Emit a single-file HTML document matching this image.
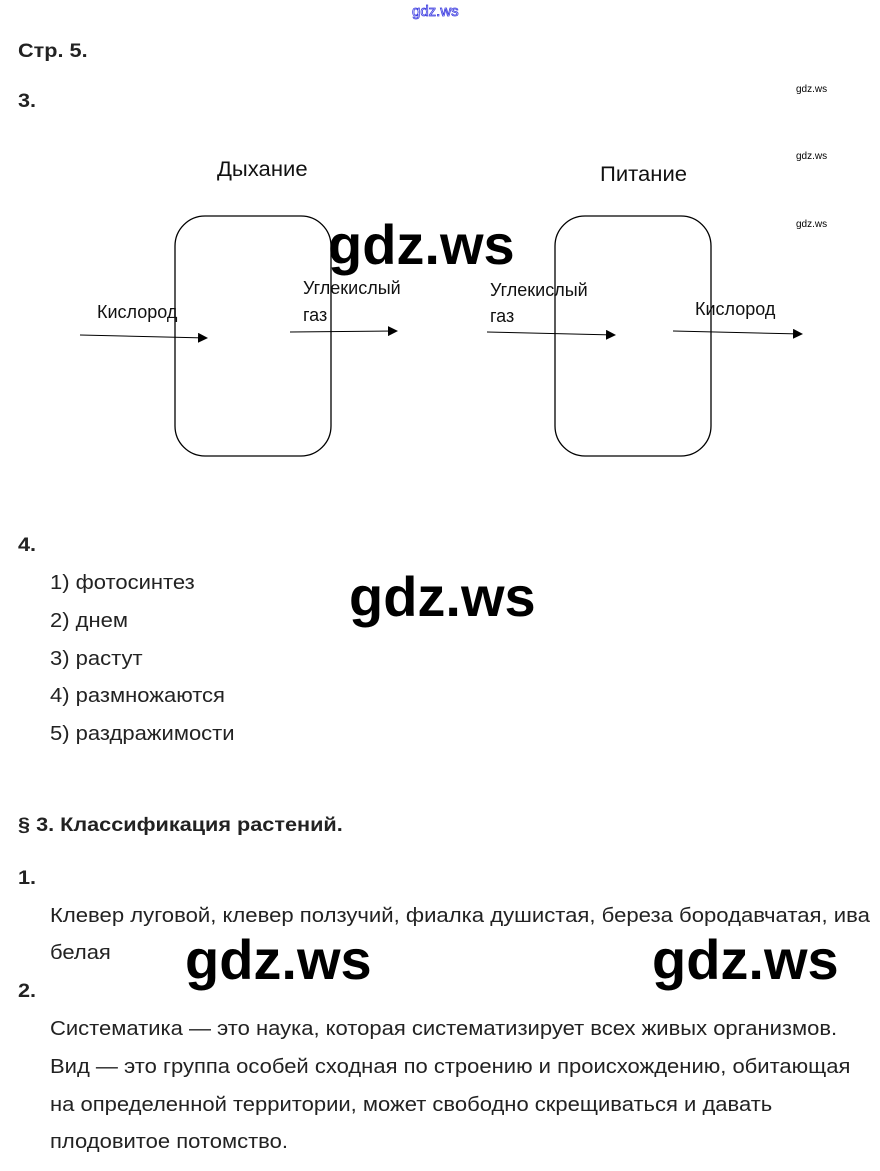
<!DOCTYPE html>
<html><head><meta charset="utf-8"><style>
body{margin:0;width:880px;height:1171px;background:#fff;position:relative;overflow:hidden;font-family:"Liberation Sans",sans-serif;color:#222}
.t{position:absolute;white-space:nowrap;font-size:20px;line-height:1;transform:scaleX(1.1);transform-origin:0 0}
.b{font-weight:bold;font-size:19px;transform:scaleX(1.14)}
.wm{position:absolute;font-family:"Liberation Sans",sans-serif;font-weight:bold;font-size:56px;color:#000;line-height:1;white-space:nowrap}
.sm{position:absolute;font-size:10px;color:#000;line-height:1}
.d{position:absolute;white-space:nowrap;line-height:1;color:#111}
</style></head><body>
<div class="sm" style="left:412px;top:4px;font-size:15px;color:transparent;-webkit-text-stroke:0.8px #3a3ae0">gdz.ws</div>
<div class="t b" style="left:18px;top:42px">Стр. 5.</div>
<div class="t b" style="left:18px;top:92px">3.</div>
<div class="sm" style="left:796px;top:85px">gdz.ws</div>
<div class="sm" style="left:796px;top:152px">gdz.ws</div>
<div class="sm" style="left:796px;top:220px">gdz.ws</div>

<svg style="position:absolute;left:0;top:0" width="880" height="480">
<defs><marker id="a" markerWidth="10" markerHeight="10" refX="9" refY="5" orient="auto" markerUnits="userSpaceOnUse"><path d="M0,0 L10,5 L0,10 z" fill="#000"/></marker></defs>
<rect x="175" y="216" width="156" height="240" rx="30" fill="none" stroke="#000" stroke-width="1.3"/>
<rect x="555" y="216" width="156" height="240" rx="30" fill="none" stroke="#000" stroke-width="1.3"/>
<line x1="80" y1="335" x2="207" y2="338" stroke="#000" stroke-width="1" marker-end="url(#a)"/>
<line x1="290" y1="332" x2="397" y2="331" stroke="#000" stroke-width="1" marker-end="url(#a)"/>
<line x1="487" y1="332" x2="615" y2="335" stroke="#000" stroke-width="1" marker-end="url(#a)"/>
<line x1="673" y1="331" x2="802" y2="334" stroke="#000" stroke-width="1" marker-end="url(#a)"/>
</svg>
<div class="d" style="left:217px;top:159px;font-size:21px;transform:scaleX(1.05);transform-origin:0 0">Дыхание</div>
<div class="d" style="left:600px;top:164px;font-size:21px;transform:scaleX(1.05);transform-origin:0 0">Питание</div>
<div class="d" style="left:97px;top:303px;font-size:18px">Кислород</div>
<div class="d" style="left:303px;top:279px;font-size:18px">Углекислый</div>
<div class="d" style="left:303px;top:306px;font-size:18px">газ</div>
<div class="d" style="left:490px;top:281px;font-size:18px">Углекислый</div>
<div class="d" style="left:490px;top:307px;font-size:18px">газ</div>
<div class="d" style="left:695px;top:300px;font-size:18px">Кислород</div>
<div class="wm" style="left:328px;top:217px">gdz.ws</div>

<div class="t b" style="left:18px;top:536px">4.</div>
<div class="t" style="left:50px;top:573px">1) фотосинтез</div>
<div class="t" style="left:50px;top:611px">2) днем</div>
<div class="t" style="left:50px;top:649px">3) растут</div>
<div class="t" style="left:50px;top:686px">4) размножаются</div>
<div class="t" style="left:50px;top:724px">5) раздражимости</div>
<div class="wm" style="left:349px;top:569px">gdz.ws</div>

<div class="t b" style="left:18px;top:816px">§ 3. Классификация растений.</div>
<div class="t b" style="left:18px;top:869px">1.</div>
<div class="t" style="left:50px;top:906px;font-size:20px;transform:scaleX(1.105)">Клевер луговой, клевер ползучий, фиалка душистая, береза бородавчатая, ива</div>
<div class="t" style="left:50px;top:943px">белая</div>
<div class="wm" style="left:185px;top:932px">gdz.ws</div>
<div class="wm" style="left:652px;top:932px">gdz.ws</div>
<div class="t b" style="left:18px;top:982px">2.</div>
<div class="t" style="left:50px;top:1019px">Систематика — это наука, которая систематизирует всех живых организмов.</div>
<div class="t" style="left:50px;top:1057px">Вид — это группа особей сходная по строению и происхождению, обитающая</div>
<div class="t" style="left:50px;top:1095px">на определенной территории, может свободно скрещиваться и давать</div>
<div class="t" style="left:50px;top:1132px">плодовитое потомство.</div>
</body></html>
